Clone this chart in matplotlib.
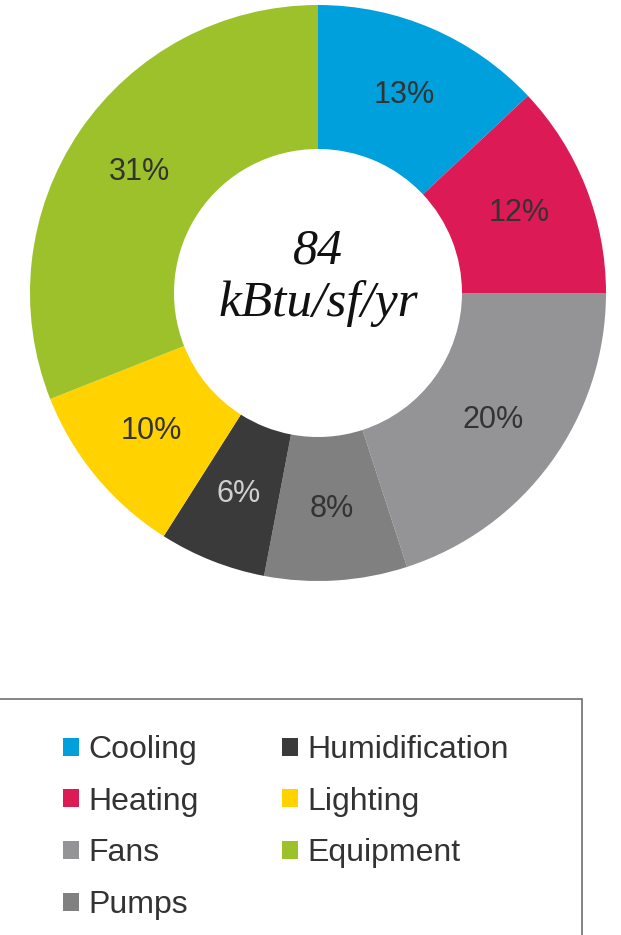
import matplotlib.pyplot as plt
from matplotlib.patches import Rectangle, Patch

# energy end-use breakdown
categories = ['Cooling', 'Heating', 'Fans', 'Pumps', 'Humidification', 'Lighting', 'Equipment']
shares = [13, 12, 20, 8, 6, 10, 31]
colors = ['#00A0DC', '#DC1A55', '#949497', '#808080', '#3A3A3A', '#FFD200', '#9DC12A']
center_value = '84'
center_unit = 'kBtu/sf/yr'

W, H = 621, 935
fig = plt.figure(figsize=(W / 100, H / 100), dpi=100)

# pie axes: center ~ (318, 293) px, radius ~ 288 px
cx, cy, r = 318, 293, 288
ax = fig.add_axes([(cx - r) / W, (H - cy - r) / H, 2 * r / W, 2 * r / H])
wedges, _, autotexts = ax.pie(
    shares, colors=colors, startangle=90, counterclock=False, radius=1,
    wedgeprops=dict(width=0.5, linewidth=0),
    autopct=lambda p: '%d%%' % round(p), pctdistance=0.75,
    textprops=dict(color='#333333', fontsize=22, family='Liberation Sans'))
# light label on the dark slice
autotexts[categories.index('Humidification')].set_color('#D0D0D0')
ax.set_xlim(-1, 1)
ax.set_ylim(-1, 1)
ax.set_aspect('equal')
ax.axis('off')

ax.text(0, 0.145, center_value, ha='center', va='center', fontsize=36,
        family='Liberation Serif', style='italic', color='#111111')
ax.text(0, -0.035, center_unit, ha='center', va='center', fontsize=37,
        family='Liberation Serif', style='italic', color='#111111')

# legend box
fig.patches.append(Rectangle((-0.01, -0.05), (582 + 6) / W, (H - 699) / H + 0.05,
                             transform=fig.transFigure, fill=False,
                             edgecolor='#707070', linewidth=1.2))
handles = [Patch(facecolor=c, edgecolor='none') for c in colors]
fig.legend(handles, categories, loc='upper left', bbox_to_anchor=(63 / W, 1 - 735 / H),
           borderaxespad=0, borderpad=0,
           ncol=2, frameon=False, handlelength=0.5, handleheight=0.5,
           handletextpad=0.3, labelspacing=0.68, columnspacing=2.6,
           labelcolor='#333333', prop=dict(family='Liberation Sans', size=23))

fig.savefig('out.png', dpi=100)
